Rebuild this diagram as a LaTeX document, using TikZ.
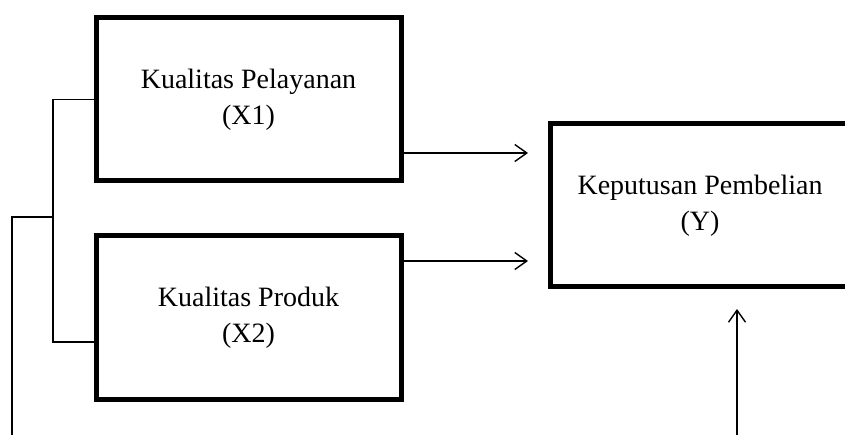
\documentclass[tikz,border=0pt]{standalone}
\usepackage{fontspec}
\setmainfont{Liberation Serif}
\usetikzlibrary{arrows.meta}
\begin{document}
\begin{tikzpicture}[x=1pt,y=-1pt,
  varbox/.style={draw=black,line width=5pt,minimum width=305pt,minimum height=163pt,
    inner sep=0pt,align=center,font=\fontsize{28}{36}\selectfont},
  thin/.style={draw=black,line width=1.4pt},
  arr/.style={thin,-{Straight Barb[length=12pt,width=17pt,line width=1.4pt]}}]
\useasboundingbox (0,0) rectangle (845,435);
\clip (0,0) rectangle (845,435);
\fill[white] (0,0) rectangle (845,435);
\node[varbox] (x1) at (248.5,99.5) {Kualitas Pelayanan\\(X1)};
\node[varbox] (x2) at (248.5,317.5) {Kualitas Produk\\(X2)};
\node[varbox,minimum width=300pt] (y) at (700,205.5) {Keputusan Pembelian\\(Y)};
% bracket
\coordinate (btop) at (53,99.5);
\coordinate (bbot) at (53,342);
\coordinate (bmid) at (53,217);
\coordinate (lcorner) at (12,217);
\coordinate (lend) at (12,440);
\draw[thin] (x1.west) -- (btop) -- (bbot) -- (x2.west |- bbot);
\draw[thin] (bmid) -- (lcorner) -- (lend);
% arrows to Y
\coordinate (a1) at (528,153);
\coordinate (a2) at (528,261);
\draw[arr] (x1.east |- a1) -- (a1);
\draw[arr] (x2.east |- a2) -- (a2);
\coordinate (a3s) at (737,440);
\coordinate (a3) at (737,309);
\draw[arr] (a3s) -- (a3);
\end{tikzpicture}
\end{document}
